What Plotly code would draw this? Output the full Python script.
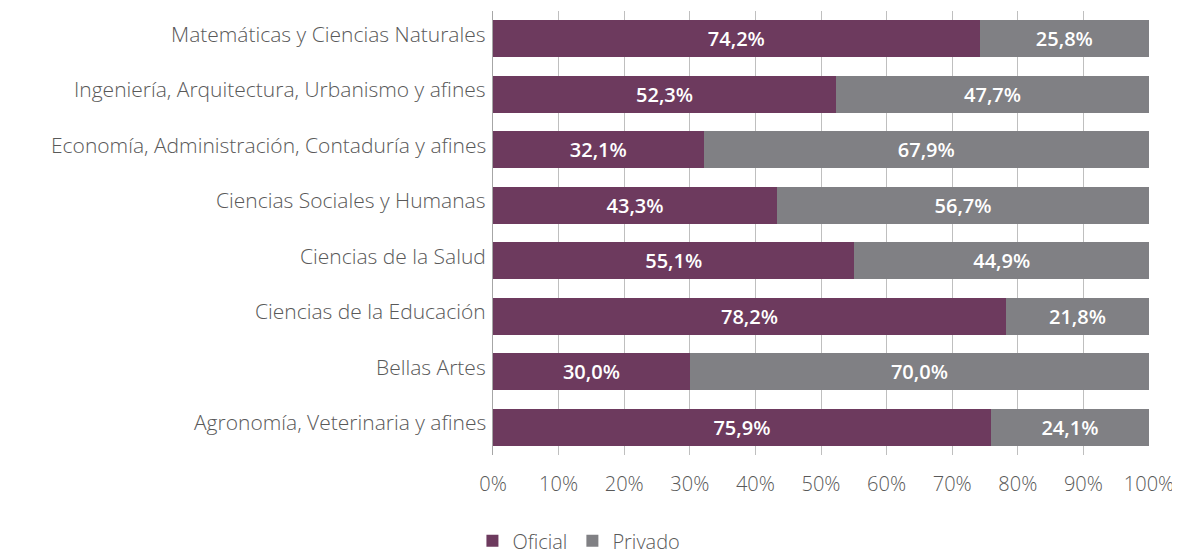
import plotly.graph_objects as go

categories = [
    "Matemáticas y Ciencias Naturales",
    "Ingeniería, Arquitectura, Urbanismo y afines",
    "Economía, Administración, Contaduría y afines",
    "Ciencias Sociales y Humanas",
    "Ciencias de la Salud",
    "Ciencias de la Educación",
    "Bellas Artes",
    "Agronomía, Veterinaria y afines",
]
oficial = [74.2, 52.3, 32.1, 43.3, 55.1, 78.2, 30.0, 75.9]
privado = [25.8, 47.7, 67.9, 56.7, 44.9, 21.8, 70.0, 24.1]
tick_vals = [0, 10, 20, 30, 40, 50, 60, 70, 80, 90, 100]
tick_text = ["0%", "10%", "20%", "30%", "40%", "50%", "60%", "70%", "80%", "90%", "100%"]

FONT = "Open Sans"
GRAY_TXT = "#595959"

fig = go.Figure()
for name, vals, col in [("Oficial", oficial, "#6D3A5E"), ("Privado", privado, "#808084")]:
    fig.add_trace(go.Bar(
        y=categories, x=vals, orientation="h", name=name,
        marker=dict(color=col, line=dict(width=0)),
        texttemplate="%{x:.1f}%", textposition="inside", insidetextanchor="middle",
        textfont=dict(family=FONT, size=20, color="white", weight=600),
        constraintext="none",
    ))

for cat in categories:
    fig.add_annotation(
        x=0, xref="paper", xanchor="right", xshift=-5,
        y=cat, yref="y", yshift=5, yanchor="middle",
        text=cat, showarrow=False,
        font=dict(family=FONT, size=21, color=GRAY_TXT, weight=300),
    )

fig.update_layout(
    barmode="stack",
    bargap=0.33,
    width=1172, height=545,
    margin=dict(l=485, r=31, t=3, b=98, autoexpand=False),
    paper_bgcolor="white", plot_bgcolor="white",
    separators=",.",
    font=dict(family=FONT, size=20, color=GRAY_TXT),
    legend=dict(
        orientation="h", x=0.131, xanchor="center", y=-0.193, yanchor="middle",
        font=dict(family=FONT, size=20, color=GRAY_TXT, weight=300),
        itemwidth=30, traceorder="normal",
    ),
    xaxis=dict(
        range=[0, 100], tickvals=tick_vals, ticktext=tick_text,
        showgrid=True, gridcolor="#BFBFBF", gridwidth=1,
        zeroline=False, showline=False, automargin=False,
        tickfont=dict(family=FONT, size=20, color=GRAY_TXT, weight=300),
        ticklabelstandoff=15, fixedrange=True,
    ),
    yaxis=dict(
        autorange="reversed", showgrid=False, zeroline=False, automargin=False,
        showline=True, linecolor="#A6A6A6", linewidth=1,
        showticklabels=False, ticks="",
    ),
)

fig.write_html("out.html")
